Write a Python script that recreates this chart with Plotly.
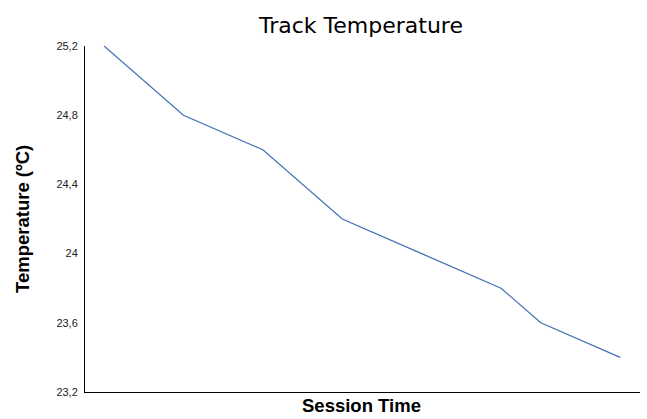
import plotly.graph_objects as go

session_time = [0, 1, 2, 3, 4, 5, 5.5, 6.5]
temperature = [25.2, 24.8, 24.6, 24.2, 24.0, 23.8, 23.6, 23.4]
y_ticks = [23.2, 23.6, 24.0, 24.4, 24.8, 25.2]

fig = go.Figure()
fig.add_trace(go.Scatter(x=session_time, y=temperature, mode="lines",
                         line=dict(color="#4170B5", width=1.2), hoverinfo="skip"))

fig.update_layout(
    width=647, height=419,
    margin=dict(l=85, r=7, t=46, b=27, autoexpand=False),
    paper_bgcolor="white", plot_bgcolor="white",
    separators=",.",
    showlegend=False,
    title=dict(text="Track Temperature", x=361 / 647, xanchor="center",
               y=1 - 25 / 419, yanchor="middle",
               font=dict(family="DejaVu Sans", size=22, color="black")),
    xaxis=dict(range=[-0.24, 6.75], showticklabels=False, showgrid=False, zeroline=False,
               showline=True, linecolor="black", linewidth=1, ticks=""),
    yaxis=dict(range=[23.2, 25.2], tickvals=y_ticks, showgrid=False, zeroline=False,
               showline=True, linecolor="black", linewidth=1,
               ticks="outside", ticklen=4, tickcolor="rgba(0,0,0,0)",
               tickfont=dict(family="Liberation Sans, Arial", size=11, color="#222")),
    annotations=[
        dict(text="<b>Session Time</b>", xref="paper", yref="paper", x=(361 - 85) / 555,
             y=-13 / 346, xanchor="center", yanchor="middle", showarrow=False,
             font=dict(family="Liberation Sans, Arial", size=18.5, color="black")),
        dict(text="<b>Temperature (ºC)</b>", xref="paper", yref="paper", x=(22 - 85) / 555, y=0.5,
             xanchor="center", yanchor="middle", textangle=-90, showarrow=False,
             font=dict(family="Liberation Sans, Arial", size=18.5, color="black")),
    ],
)

fig.write_html("out.html", config={"displayModeBar": False},
               post_script="document.body.style.margin='0';")
